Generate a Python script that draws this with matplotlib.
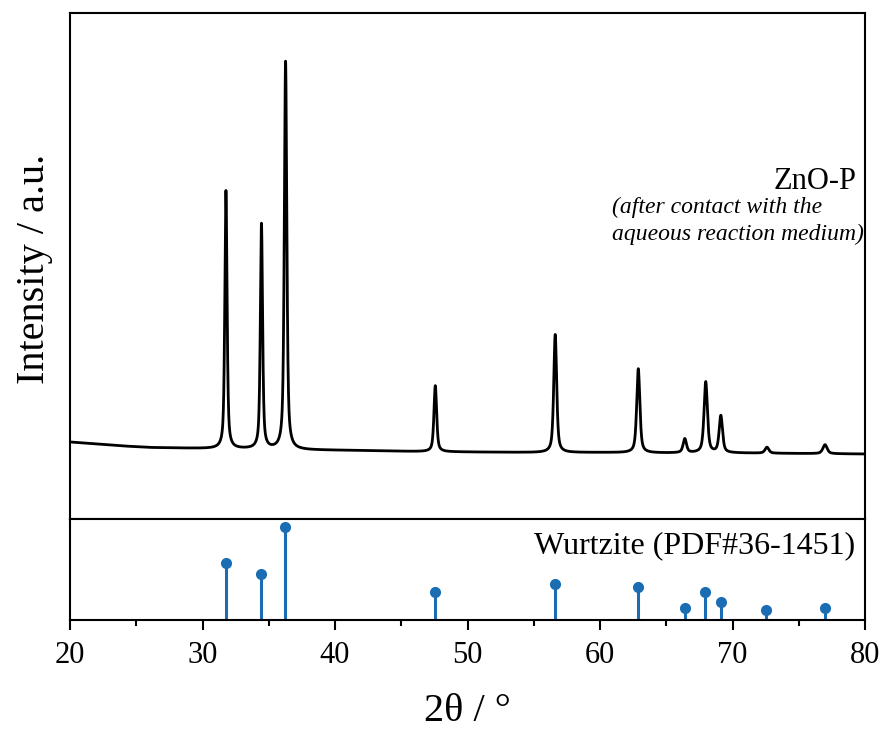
import numpy as np
import matplotlib
matplotlib.use("Agg")
import matplotlib.pyplot as plt
from matplotlib.ticker import MultipleLocator

plt.rcParams['font.family'] = ['Liberation Serif', 'DejaVu Serif']

# --- Measured pattern (ZnO-P): peak positions (2theta), heights above background (a.u.), FWHM (deg)
peak_pos = [31.77, 34.45, 36.27, 47.57, 56.62, 62.89, 66.40, 67.98, 69.12, 72.60, 76.98]
peak_height = [258, 225, 388, 66, 118, 84, 14, 71, 37, 6, 9]
peak_fwhm = [0.2, 0.2, 0.22, 0.24, 0.26, 0.28, 0.3, 0.3, 0.3, 0.34, 0.38]

# background points (2theta, a.u.)
bg_x = [20, 22, 24, 26, 28, 30, 33, 38, 42, 46, 50, 55, 60, 65, 70, 75, 80]
bg_y = [77, 75, 73, 71.5, 71, 70.5, 70, 69, 68.5, 67.5, 67, 66.5, 66.5, 66, 66, 65.5, 65]

# --- Reference: Wurtzite PDF#36-1451
ref_pos = [31.77, 34.42, 36.25, 47.54, 56.60, 62.86, 66.38, 67.96, 69.10, 72.56, 76.95]
ref_int = [57, 44, 100, 23, 32, 29, 4, 23, 11, 2, 4]

stem_color = '#1a6db3'

# build pattern profile from measured peak list (pseudo-Voigt)
tt = np.arange(20.0, 80.0001, 0.01)
inten = np.interp(tt, bg_x, bg_y)
eta = 0.6
for p, h, w in zip(peak_pos, peak_height, peak_fwhm):
    hw = w / 2.0
    lor = 1.0 / (1.0 + ((tt - p) / hw) ** 2)
    gau = np.exp(-np.log(2) * ((tt - p) / hw) ** 2)
    inten += h * (eta * lor + (1 - eta) * gau)

fig = plt.figure(figsize=(8.85, 7.36), dpi=100)
L, R = 70 / 885, 865 / 885
ax1 = fig.add_axes([L, 1 - 519 / 736, R - L, (519 - 13) / 736])
ax2 = fig.add_axes([L, 1 - 620 / 736, R - L, (620 - 519) / 736], sharex=ax1)

ax1.plot(tt, inten, color='black', lw=2)
ax1.set_xlim(20, 80)
ax1.set_ylim(0, 506)
ax1.tick_params(left=False, bottom=False, labelleft=False, labelbottom=False)
for s in ax1.spines.values():
    s.set_linewidth(1.5)

ax1.text(0.99, 0.652, 'ZnO-P', transform=ax1.transAxes, ha='right', va='baseline',
         fontsize=22)
ax1.text(0.999, 0.551, '(after contact with the\naqueous reaction medium)',
         transform=ax1.transAxes, ha='right', va='baseline', multialignment='left',
         fontsize=17, style='italic', linespacing=1.35)

ax2.vlines(ref_pos, -10, ref_int, color=stem_color, lw=2.2)
ax2.plot(ref_pos, ref_int, 'o', color=stem_color, ms=7)
ax2.set_ylim(-10, 109)
ax2.set_xlim(20, 80)
ax2.xaxis.set_major_locator(MultipleLocator(10))
ax2.xaxis.set_minor_locator(MultipleLocator(5))
ax2.tick_params(axis='x', which='major', direction='out', length=7, width=1.5,
                labelsize=22, pad=8)
ax2.tick_params(axis='x', which='minor', direction='out', length=4, width=1.5)
ax2.tick_params(left=False, labelleft=False)
for s in ax2.spines.values():
    s.set_linewidth(1.5)
ax2.text(0.988, 0.74, 'Wurtzite (PDF#36-1451)', transform=ax2.transAxes,
         ha='right', va='center', fontsize=23)

ax2.set_xlabel('2θ / °', fontsize=29, labelpad=17)
fig.text(35 / 885, 1 - 269 / 736, 'Intensity / a.u.', rotation=90, ha='center',
         va='center', fontsize=29)

fig.savefig('out.png', dpi=100)
